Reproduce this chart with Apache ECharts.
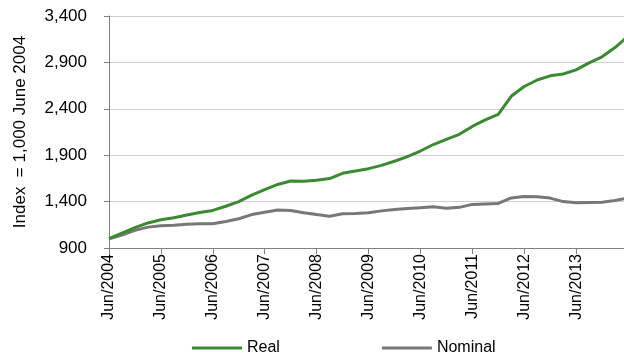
<!DOCTYPE html>
<html>
<head>
<meta charset="utf-8">
<script src="https://cdn.jsdelivr.net/npm/echarts@6/dist/echarts.min.js"></script>
<style>
  html, body { margin: 0; padding: 0; background: #fff; }
  #chart { width: 624px; height: 358px; }
</style>
</head>
<body>
<div id="chart"></div>
<script>
// Quarterly periods, Jun 2004 to Jun 2014
const quarters = [
  'Jun/2004','Sep/2004','Dec/2004','Mar/2005',
  'Jun/2005','Sep/2005','Dec/2005','Mar/2006',
  'Jun/2006','Sep/2006','Dec/2006','Mar/2007',
  'Jun/2007','Sep/2007','Dec/2007','Mar/2008',
  'Jun/2008','Sep/2008','Dec/2008','Mar/2009',
  'Jun/2009','Sep/2009','Dec/2009','Mar/2010',
  'Jun/2010','Sep/2010','Dec/2010','Mar/2011',
  'Jun/2011','Sep/2011','Dec/2011','Mar/2012',
  'Jun/2012','Sep/2012','Dec/2012','Mar/2013',
  'Jun/2013','Sep/2013','Dec/2013','Mar/2014',
  'Jun/2014'
];

// Index values (1,000 = June 2004)
const realIndex = [
  1000, 1060, 1120, 1170, 1205, 1225, 1255, 1282, 1305, 1350,
  1400, 1470, 1530, 1585, 1622, 1620, 1630, 1648, 1705, 1730,
  1755, 1790, 1835, 1885, 1945, 2015, 2070, 2125, 2210, 2280,
  2340, 2535, 2640, 2710, 2755, 2775, 2820, 2895, 2960, 3060,
  3180
];
const nominalIndex = [
  1000, 1040, 1090, 1125, 1140, 1145, 1155, 1160, 1162, 1185,
  1215, 1260, 1285, 1310, 1305, 1280, 1260, 1242, 1268, 1272,
  1280, 1300, 1315, 1325, 1335, 1345, 1328, 1338, 1370, 1375,
  1380, 1440, 1454, 1452, 1438, 1400, 1388, 1390, 1392, 1412,
  1440
];

const yTicks = { min: 900, max: 3400, step: 500 };

const FONT = 'Liberation Sans, Arial, sans-serif';
const lastIdx = quarters.length - 1;
// Yearly (June) ticks and labels; the final June falls on the chart's clipped edge
const yearly = (idx) => idx % 4 === 0 && idx < lastIdx;

const chart = echarts.init(document.getElementById('chart'), null, { renderer: 'canvas' });

chart.setOption({
  animation: false,
  backgroundColor: '#ffffff',
  grid: { left: 109, right: -4, top: 16, bottom: 110, containLabel: false, outerBoundsMode: 'none' },
  legend: {
    bottom: -3,
    left: 187,
    itemWidth: 50,
    itemHeight: 3,
    itemGap: 102,
    icon: 'rect',
    textStyle: { fontFamily: FONT, fontSize: 16, color: '#000' },
    data: ['Real', 'Nominal']
  },
  xAxis: {
    type: 'category',
    data: quarters,
    boundaryGap: false,
    axisLine: { lineStyle: { color: '#808080', width: 1 } },
    axisTick: { show: true, interval: yearly, length: 6, lineStyle: { color: '#808080' } },
    axisLabel: {
      interval: yearly,
      rotate: 90,
      margin: 6,
      fontFamily: FONT,
      fontSize: 16,
      color: '#000'
    },
    splitLine: { show: false }
  },
  yAxis: {
    type: 'value',
    min: yTicks.min,
    max: yTicks.max,
    interval: yTicks.step,
    name: 'Index  = 1,000 June 2004',
    nameLocation: 'middle',
    nameGap: 80,
    nameTextStyle: { fontFamily: FONT, fontSize: 17, color: '#000' },
    axisLine: { show: true, lineStyle: { color: '#808080', width: 1 } },
    axisTick: { show: true, length: 5, lineStyle: { color: '#808080' } },
    axisLabel: {
      margin: 22,
      fontFamily: FONT,
      fontSize: 17,
      color: '#000',
      formatter: v => v.toLocaleString('en-US')
    },
    splitLine: { show: true, lineStyle: { color: '#d0d0d0', width: 1 } }
  },
  series: [
    {
      name: 'Real',
      type: 'line',
      data: realIndex,
      showSymbol: false,
      symbol: 'none',
      lineStyle: { color: '#3b8a32', width: 3 },
      itemStyle: { color: '#3b8a32' },
      z: 3
    },
    {
      name: 'Nominal',
      type: 'line',
      data: nominalIndex,
      showSymbol: false,
      symbol: 'none',
      lineStyle: { color: '#777777', width: 3 },
      itemStyle: { color: '#777777' },
      z: 2
    }
  ]
});
</script>
</body>
</html>
